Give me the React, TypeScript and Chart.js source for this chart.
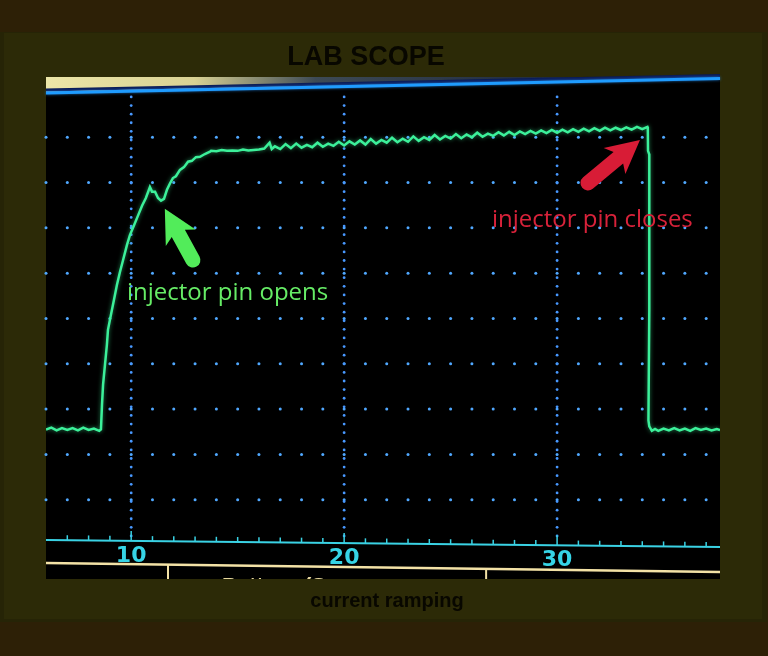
import React, { useEffect, useRef } from "react";
import { Chart, registerables } from "chart.js";

Chart.register(...registerables);

// ---- axes ranges & labels ----
const X_MIN = 6;
const X_MAX = 37.65;
const Y_MIN = -0.75;
const Y_MAX = 10.33;
const xTickLabels = [10, 20, 30];
const minorTicks = [7, 8, 9, 11, 12, 13, 14, 15, 16, 17, 18, 19, 21, 22, 23, 24, 25, 26, 27, 28, 29, 31, 32, 33, 34, 35, 36, 37];
const gridRows = [1, 2, 3, 4, 5, 6, 7, 8, 9];

const TITLE = "LAB SCOPE";
const SUBTITLE = "current ramping";

// ---- trace segments [time, divisions] ----
const baselineBefore: [number, number][] = [
  [6.0, 2.55], [6.25, 2.59], [6.5, 2.53], [6.75, 2.58], [7.0, 2.54], [7.25, 2.58],
  [7.5, 2.53], [7.75, 2.59], [8.0, 2.54], [8.25, 2.57], [8.5, 2.52], [8.58, 2.55],
];

const rise: [number, number][] = [
  [8.63, 3.1], [8.68, 3.54], [8.77, 3.98], [8.86, 4.42], [8.91, 4.75], [9.05, 5.08],
  [9.19, 5.41], [9.33, 5.74], [9.47, 6.02], [9.62, 6.29], [9.8, 6.62], [9.94, 6.84],
  [10.13, 7.05], [10.32, 7.27], [10.51, 7.49], [10.69, 7.66], [10.88, 7.9], [10.98, 7.8],
  [11.12, 7.8], [11.26, 7.66], [11.4, 7.6], [11.54, 7.64], [11.68, 7.84], [11.82, 7.98],
  [11.96, 8.1], [12.1, 8.14], [12.29, 8.28], [12.48, 8.34], [12.67, 8.46], [12.85, 8.48],
  [13.04, 8.56], [13.23, 8.57], [13.46, 8.63], [13.7, 8.68],
];

const plateau: [number, number][] = [
  [13.75, 8.7], [14.0, 8.69], [14.25, 8.72], [14.5, 8.7], [14.75, 8.71], [15.0, 8.7],
  [15.25, 8.73], [15.5, 8.71], [15.75, 8.72], [16.0, 8.73], [16.25, 8.75], [16.5, 8.88],
  [16.6, 8.74], [16.75, 8.8], [17.0, 8.74], [17.25, 8.85], [17.5, 8.76], [17.75, 8.86],
  [18.0, 8.77], [18.25, 8.83], [18.5, 8.78], [18.75, 8.88], [19.0, 8.79], [19.25, 8.86],
  [19.5, 8.81], [19.75, 8.9], [20.0, 8.82], [20.25, 8.91], [20.5, 8.84], [20.75, 8.93],
  [21.0, 8.84], [21.25, 8.96], [21.5, 8.86], [21.75, 8.94], [22.0, 8.88], [22.25, 8.99],
  [22.5, 8.89], [22.75, 8.97], [23.0, 8.9], [23.25, 9.02], [23.5, 8.92], [23.75, 9.0],
  [24.0, 8.94], [24.25, 9.05], [24.5, 8.95], [24.75, 9.03], [25.0, 8.97], [25.25, 9.07],
  [25.5, 8.98], [25.75, 9.06], [26.0, 9.0], [26.25, 9.1], [26.5, 9.01], [26.75, 9.08],
  [27.0, 9.03], [27.25, 9.11], [27.5, 9.04], [27.75, 9.12], [28.0, 9.05], [28.25, 9.13],
  [28.5, 9.07], [28.75, 9.14], [29.0, 9.08], [29.25, 9.15], [29.5, 9.09], [29.75, 9.16],
  [30.0, 9.1], [30.25, 9.17], [30.5, 9.11], [30.75, 9.18], [31.0, 9.12], [31.25, 9.19],
  [31.5, 9.13], [31.75, 9.2], [32.0, 9.14], [32.25, 9.21], [32.5, 9.15], [32.75, 9.21],
  [33.0, 9.16], [33.25, 9.22], [33.5, 9.17], [33.75, 9.23], [34.0, 9.18], [34.24, 9.23],
];

const fall: [number, number][] = [
  [34.26, 9.2], [34.27, 8.7], [34.33, 8.62], [34.33, 5.2], [34.29, 2.75], [34.33, 2.62], [34.45, 2.52],
];

const baselineAfter: [number, number][] = [
  [34.6, 2.56], [34.75, 2.52], [35.0, 2.57], [35.25, 2.53], [35.5, 2.58], [35.75, 2.53],
  [36.0, 2.57], [36.25, 2.52], [36.5, 2.58], [36.75, 2.54], [37.0, 2.57], [37.25, 2.53],
  [37.5, 2.56], [37.65, 2.54],
];

// ---- annotations (data units) ----
const openLabel = { text: "injector pin opens", x: 9.8, y: 5.41, color: "#66ec66" };
const closeLabel = { text: "injector pin closes", x: 26.94, y: 7.02, color: "#d8223a" };
const openArrow = { tipX: 11.58, tipY: 7.42, tailX: 12.9, tailY: 6.29, color: "#52ec5a" };
const closeArrow = { tipX: 33.89, tipY: 8.94, tailX: 31.45, tailY: 7.99, color: "#d81c36" };

const traceData = [...baselineBefore, ...rise, ...plateau, ...fall, ...baselineAfter].map(([x, y]) => ({ x, y }));

function drawArrow(ctx: CanvasRenderingContext2D, tx: number, ty: number, bx: number, by: number, color: string) {
  const dx = tx - bx;
  const dy = ty - by;
  const len = Math.hypot(dx, dy);
  const ux = dx / len;
  const uy = dy / len;
  const nx = -uy;
  const ny = ux;
  const headLen = 30;
  const headHalf = 17;
  const shaftHalf = 7.5;
  const hbx = tx - ux * headLen;
  const hby = ty - uy * headLen;
  ctx.save();
  ctx.fillStyle = color;
  ctx.beginPath();
  ctx.moveTo(tx, ty);
  ctx.lineTo(hbx + nx * headHalf - ux * 3, hby + ny * headHalf - uy * 3);
  ctx.lineTo(hbx + nx * shaftHalf + ux * 2, hby + ny * shaftHalf + uy * 2);
  ctx.lineTo(bx + nx * shaftHalf, by + ny * shaftHalf);
  ctx.arc(bx, by, shaftHalf, Math.atan2(ny, nx), Math.atan2(-ny, -nx), false);
  ctx.lineTo(hbx - nx * shaftHalf + ux * 2, hby - ny * shaftHalf + uy * 2);
  ctx.lineTo(hbx - nx * headHalf - ux * 3, hby - ny * headHalf - uy * 3);
  ctx.closePath();
  ctx.fill();
  ctx.restore();
}

const scopePlugin = {
  id: "scopeDecor",
  beforeDraw(chart: any) {
    const { ctx, chartArea: a, scales } = chart;
    const xs = scales.x;
    const ys = scales.y;
    const W = chart.width;
    const H = chart.height;
    ctx.save();
    // outer frame
    ctx.fillStyle = "#2d2006";
    ctx.fillRect(0, 0, W, H);
    ctx.fillStyle = "#262406";
    ctx.fillRect(0, 32, 767, 590);
    ctx.fillStyle = "#2c2a07";
    ctx.fillRect(4, 33, 758, 586);
    // screen
    ctx.fillStyle = "#000000";
    ctx.fillRect(a.left, a.top, a.right - a.left, a.bottom - a.top);

    // top strip: yellow wedge above slanted blue line
    const wl = a.top + 15;
    const wr = a.top + 0.5;
    const grad = ctx.createLinearGradient(a.left, 0, a.right, 0);
    grad.addColorStop(0, "#ece6a8");
    grad.addColorStop(0.22, "#d9d294");
    grad.addColorStop(0.4, "#3d4a55");
    grad.addColorStop(1, "#0a1430");
    ctx.fillStyle = grad;
    ctx.beginPath();
    ctx.moveTo(a.left, a.top);
    ctx.lineTo(a.right, a.top);
    ctx.lineTo(a.right, wr);
    ctx.lineTo(a.left, wl);
    ctx.closePath();
    ctx.fill();
    ctx.strokeStyle = "#0b1a55";
    ctx.lineWidth = 3;
    ctx.beginPath();
    ctx.moveTo(a.left, wl - 2);
    ctx.lineTo(a.right, wr - 2);
    ctx.stroke();
    ctx.strokeStyle = "#1f9cff";
    ctx.lineWidth = 3;
    ctx.shadowColor = "rgba(40,150,255,0.7)";
    ctx.shadowBlur = 3;
    ctx.beginPath();
    ctx.moveTo(a.left, wl + 1);
    ctx.lineTo(a.right, wr + 1);
    ctx.stroke();
    ctx.shadowBlur = 0;

    // dotted grid rows
    ctx.fillStyle = "#50a8ff";
    for (const r of gridRows) {
      const py = ys.getPixelForValue(r);
      for (let t = Math.ceil(X_MIN); t <= X_MAX; t++) {
        const px = xs.getPixelForValue(t);
        ctx.beginPath();
        ctx.arc(px, py, 1.5, 0, Math.PI * 2);
        ctx.fill();
      }
    }
    // dotted vertical lines at labelled divisions
    ctx.fillStyle = "#4898ff";
    for (const t of xTickLabels) {
      const px = xs.getPixelForValue(t);
      for (let v = 0.2; v < 9.95; v += 0.19) {
        ctx.beginPath();
        ctx.arc(px, ys.getPixelForValue(v), 1.4, 0, Math.PI * 2);
        ctx.fill();
      }
    }
    ctx.restore();
  },
  beforeDatasetDraw(chart: any) {
    const ctx = chart.ctx;
    ctx.save();
    ctx.shadowColor = "rgba(60,240,150,0.55)";
    ctx.shadowBlur = 4;
  },
  afterDatasetDraw(chart: any) {
    chart.ctx.restore();
  },
  afterDraw(chart: any) {
    const { ctx, chartArea: a, scales } = chart;
    const xs = scales.x;
    const ys = scales.y;
    const w = a.right - a.left;
    const y0 = ys.getPixelForValue(0);
    const axisY = (px: number) => y0 - 5 + 7 * ((px - a.left) / w);
    ctx.save();

    // x axis line
    ctx.strokeStyle = "#3ad2e4";
    ctx.lineWidth = 2;
    ctx.beginPath();
    ctx.moveTo(a.left, axisY(a.left));
    ctx.lineTo(a.right, axisY(a.right));
    ctx.stroke();
    ctx.lineWidth = 1.5;
    for (const t of minorTicks) {
      const px = xs.getPixelForValue(t);
      ctx.beginPath();
      ctx.moveTo(px, axisY(px));
      ctx.lineTo(px, axisY(px) - 5);
      ctx.stroke();
    }
    ctx.fillStyle = "#36d4e6";
    ctx.font = 'bold 22px "DejaVu Sans", sans-serif';
    ctx.textAlign = "center";
    ctx.textBaseline = "middle";
    for (const t of xTickLabels) {
      const px = xs.getPixelForValue(t);
      ctx.beginPath();
      ctx.moveTo(px, axisY(px));
      ctx.lineTo(px, axisY(px) - 10);
      ctx.stroke();
      ctx.fillText(String(t), px, axisY(px) + 15);
    }

    // cream status bar line with separators and clipped labels
    const cl = a.bottom - 16;
    const cr = a.bottom - 7;
    const creamY = (px: number) => cl + (cr - cl) * ((px - a.left) / w);
    ctx.strokeStyle = "#f3e2a6";
    ctx.lineWidth = 2.5;
    ctx.beginPath();
    ctx.moveTo(a.left, cl);
    ctx.lineTo(a.right, cr);
    ctx.stroke();
    ctx.lineWidth = 2;
    for (const f of [0.181, 0.653]) {
      const px = a.left + w * f;
      ctx.beginPath();
      ctx.moveTo(px, creamY(px));
      ctx.lineTo(px, a.bottom);
      ctx.stroke();
    }
    ctx.save();
    ctx.beginPath();
    ctx.rect(a.left, a.top, w, a.bottom - a.top);
    ctx.clip();
    ctx.fillStyle = "#e8d8a0";
    ctx.font = 'bold 22px "Liberation Sans", sans-serif';
    ctx.textAlign = "left";
    ctx.textBaseline = "alphabetic";
    ctx.fillText("Pattern (S", a.left + 176, a.bottom + 14);
    ctx.fillText("Scal", a.left + 510, a.bottom + 17);
    ctx.restore();

    // annotations
    ctx.font = '24px "Open Sans", sans-serif';
    ctx.textAlign = "left";
    ctx.textBaseline = "alphabetic";
    ctx.fillStyle = openLabel.color;
    ctx.fillText(openLabel.text, xs.getPixelForValue(openLabel.x), ys.getPixelForValue(openLabel.y));
    ctx.fillStyle = closeLabel.color;
    ctx.fillText(closeLabel.text, xs.getPixelForValue(closeLabel.x), ys.getPixelForValue(closeLabel.y));
    for (const ar of [openArrow, closeArrow]) {
      drawArrow(
        ctx,
        xs.getPixelForValue(ar.tipX),
        ys.getPixelForValue(ar.tipY),
        xs.getPixelForValue(ar.tailX),
        ys.getPixelForValue(ar.tailY),
        ar.color
      );
    }

    // title and caption
    ctx.fillStyle = "#080700";
    ctx.textAlign = "center";
    ctx.textBaseline = "alphabetic";
    ctx.font = 'bold 27px "Liberation Sans", Arial, sans-serif';
    ctx.fillText(TITLE, 366, 65);
    ctx.font = 'bold 20px "Liberation Sans", Arial, sans-serif';
    ctx.fillText(SUBTITLE, 387, 607);
    ctx.restore();
  },
};

export default function App() {
  const ref = useRef<HTMLCanvasElement | null>(null);
  useEffect(() => {
    document.body.style.margin = "0";
    document.body.style.background = "#2d2006";
    const canvas = ref.current;
    if (!canvas) return;
    const chart = new Chart(canvas, {
      type: "line",
      data: {
        datasets: [
          {
            label: "injector current",
            data: traceData,
            borderColor: "#3cf09a",
            borderWidth: 2.5,
            pointRadius: 0,
            tension: 0,
            fill: false,
          },
        ],
      },
      options: {
        animation: false,
        responsive: false,
        devicePixelRatio: 1,
        parsing: true,
        layout: { padding: { left: 46, right: 48, top: 77, bottom: 77 } },
        scales: {
          x: { type: "linear", min: X_MIN, max: X_MAX, display: false },
          y: { type: "linear", min: Y_MIN, max: Y_MAX, display: false },
        },
        plugins: {
          legend: { display: false },
          tooltip: { enabled: false },
          title: { display: false },
        },
      },
      plugins: [scopePlugin],
    });
    return () => chart.destroy();
  }, []);
  return <canvas ref={ref} width={768} height={656} style={{ display: "block" }} />;
}
